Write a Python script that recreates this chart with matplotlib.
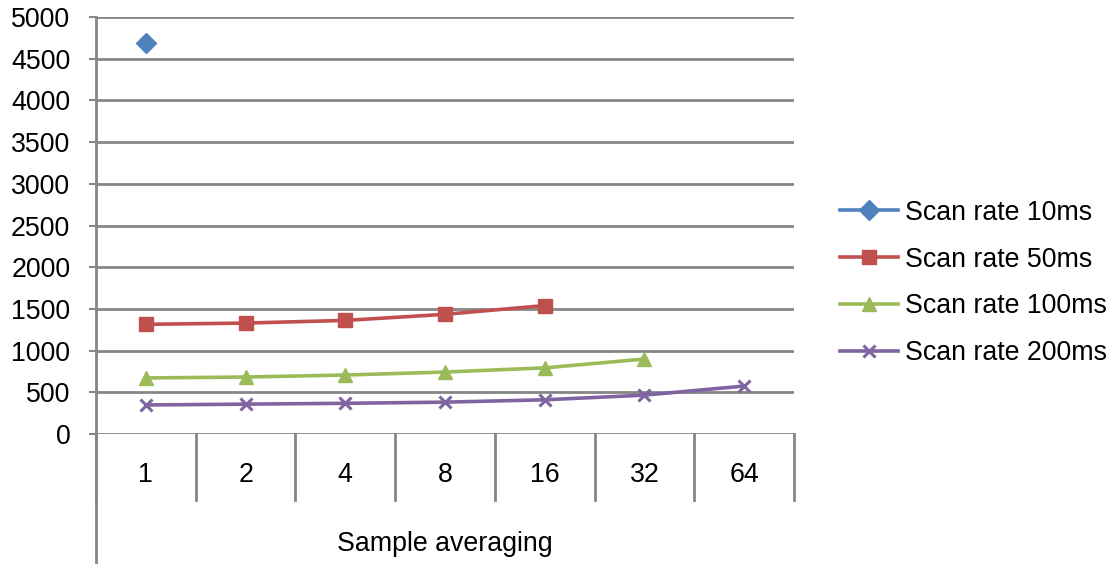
import matplotlib
matplotlib.use("Agg")
import matplotlib.pyplot as plt
import matplotlib.transforms as mtransforms
import numpy as np

plt.rcParams['font.family'] = ['Liberation Sans', 'DejaVu Sans']

categories = ["1", "2", "4", "8", "16", "32", "64"]
series_names = ["Scan rate 10ms", "Scan rate 50ms", "Scan rate 100ms", "Scan rate 200ms"]
scan_10ms = [4690]
scan_50ms = [1315, 1330, 1362, 1435, 1540]
scan_100ms = [672, 683, 707, 743, 793, 899]
scan_200ms = [348, 358, 368, 382, 410, 466, 575]
y_ticks = [0, 500, 1000, 1500, 2000, 2500, 3000, 3500, 4000, 4500, 5000]
x_title = "Sample averaging"

colors = ["#4F81BD", "#C0504D", "#9BBB59", "#8064A2"]
markers = ["D", "s", "^", "x"]
msizes = [10.5, 9.5, 10, 9]

W, H = 1115, 564
fig = plt.figure(figsize=(W / 100, H / 100), dpi=100)
left, right, bottom, top = 96, 794, 434, 17
ax = fig.add_axes([left / W, (H - bottom) / H, (right - left) / W, (bottom - top) / H])

grid_c = "#868686"
fs = 19.3

all_series = [scan_10ms, scan_50ms, scan_100ms, scan_200ms]
for name, vals, c, m, ms in zip(series_names, all_series, colors, markers, msizes):
    x = np.arange(len(vals))
    mew = 2.2 if m == "x" else 1
    ax.plot(x, vals, color=c, lw=2.6, marker=m, ms=ms, mfc=c, mec=c, mew=mew,
            label=name, zorder=3, clip_on=False)

ax.set_xlim(-0.5, len(categories) - 0.5)
ax.set_ylim(0, 5000)
ax.set_yticks(y_ticks)
ax.set_yticklabels([str(v) for v in y_ticks], fontsize=fs)
ax.tick_params(axis='y', length=5, width=1.5, color=grid_c, pad=13.5)
ax.tick_params(axis='x', length=0, labelbottom=False)
for v in y_ticks:
    ax.axhline(v, color=grid_c, lw=2, zorder=1)
for s in ["top", "right", "bottom"]:
    ax.spines[s].set_visible(False)
ax.spines["left"].set_color(grid_c)
ax.spines["left"].set_linewidth(2)
ax.spines["left"].set_zorder(2)

# category boxes
trans = mtransforms.blended_transform_factory(ax.transData, ax.transAxes)
h = bottom - top
div_end = -(500 - bottom) / h
for i in range(len(categories) + 1):
    ax.plot([i - 0.5, i - 0.5], [0, div_end], color=grid_c, lw=2, transform=trans,
            clip_on=False, zorder=1)
ax.plot([-0.5, -0.5], [0, -(H - bottom + 2) / h], color=grid_c, lw=2, transform=trans,
        clip_on=False, zorder=1)
for i, lab in enumerate(categories):
    ax.text(i, -(475 - bottom) / h, lab, transform=trans, ha='center', va='center', fontsize=fs)
ax.text(3, -(544 - bottom) / h, x_title, transform=trans, ha='center', va='center', fontsize=fs)

leg = fig.legend(loc='center left', bbox_to_anchor=(840 / W, 1 - 283 / H), frameon=False,
                 fontsize=fs, handlelength=2.15, handletextpad=0.26, labelspacing=0.78,
                 borderpad=0, borderaxespad=0)

fig.savefig("out.png", dpi=100)
